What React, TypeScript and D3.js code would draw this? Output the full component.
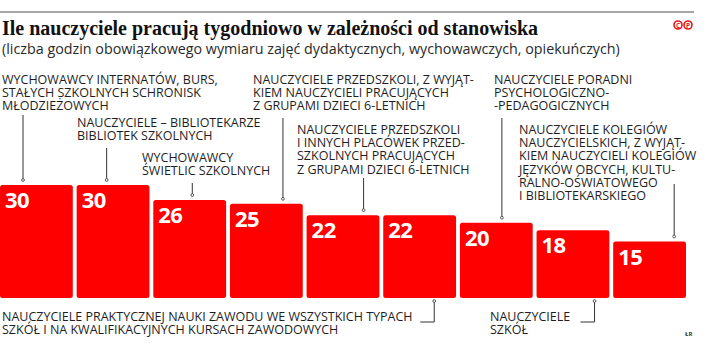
import * as d3 from "d3";

// dane: tygodniowy wymiar godzin wg stanowiska
const categories = [
  "internaty",
  "biblioteki",
  "swietlice",
  "przedszkola",
  "przedszkola6",
  "praktyczna",
  "poradnie",
  "szkoly",
  "kolegia",
];
const hours = [30, 30, 26, 25, 22, 22, 20, 18, 15];
const labels = [
  ["WYCHOWAWCY INTERNATÓW, BURS,", "STAŁYCH SZKOLNYCH SCHRONISK", "MŁODZIEŻOWYCH"],
  ["NAUCZYCIELE – BIBLIOTEKARZE", "BIBLIOTEK SZKOLNYCH"],
  ["WYCHOWAWCY", "ŚWIETLIC SZKOLNYCH"],
  ["NAUCZYCIELE PRZEDSZKOLI, Z WYJĄT-", "KIEM NAUCZYCIELI PRACUJĄCYCH", "Z GRUPAMI DZIECI 6-LETNICH"],
  ["NAUCZYCIELE PRZEDSZKOLI", "I INNYCH PLACÓWEK PRZED-", "SZKOLNYCH PRACUJĄCYCH", "Z GRUPAMI DZIECI 6-LETNICH"],
  ["NAUCZYCIELE PRAKTYCZNEJ NAUKI ZAWODU WE WSZYSTKICH TYPACH", "SZKÓŁ I NA KWALIFIKACYJNYCH KURSACH ZAWODOWYCH"],
  ["NAUCZYCIELE PORADNI", "PSYCHOLOGICZNO-", "-PEDAGOGICZNYCH"],
  ["NAUCZYCIELE", "SZKÓŁ"],
  ["NAUCZYCIELE KOLEGIÓW", "NAUCZYCIELSKICH, Z WYJĄT-", "KIEM NAUCZYCIELI KOLEGIÓW", "JĘZYKÓW OBCYCH, KULTU-", "RALNO-OŚWIATOWEGO", "I BIBLIOTEKARSKIEGO"],
];
const title = "Ile nauczyciele pracują tygodniowo w zależności od stanowiska";
const subtitle =
  "(liczba godzin obowiązkowego wymiaru zajęć dydaktycznych, wychowawczych, opiekuńczych)";

// rozmieszczenie podpisów (lx, ly = pierwsza linia, dx = linia odnośnika od lewej krawędzi słupka)
const layout = [
  { lx: 2, ly: 84, dx: 23, top: 115, below: false },
  { lx: 77, ly: 127, dx: 30, top: 148, below: false },
  { lx: 142, ly: 162, dx: 39, top: 183, below: false },
  { lx: 253, ly: 84, dx: 53, top: 118, below: false },
  { lx: 297, ly: 134, dx: 57, top: 178, below: false },
  { lx: 2, ly: 321, dx: 51, top: 0, below: true },
  { lx: 494, ly: 84, dx: 42, top: 118, below: false },
  { lx: 490, ly: 321, dx: 58, top: 0, below: true },
  { lx: 519, ly: 134, dx: 61, top: 184, below: false },
];

const W = 718;
const H = 352;
const base = 298;
const lineH = 13.2;
const labelFont = "'Open Sans', sans-serif";

export default function App() {
  const x = d3.scaleBand<string>().domain(categories).range([0, 686]).paddingInner(0.05);
  const y = d3.scaleLinear().domain([0, 30]).range([base, 185]);

  return (
    <div style={{ position: "absolute", left: 0, top: 0 }}>
      <svg width={W} height={H} style={{ display: "block", background: "#fff" }}>
        <line x1={0} x2={694} y1={12} y2={12} stroke="#8a8a8a" strokeWidth={1.5} />
        <text x={2} y={35} fontFamily="'Liberation Serif', serif" fontWeight={700} fontSize={20} fill="#111">
          {title}
        </text>
        <text x={2} y={54} fontFamily={labelFont} fontSize={14.3} fill="#2a2a2a">
          {subtitle}
        </text>
        {/* ©℗ */}
        <g fill="none" stroke="#e8141b" strokeWidth={1.6}>
          <circle cx={678} cy={25} r={4} />
          <circle cx={688} cy={25} r={4} />
        </g>
        <text x={678} y={27.5} textAnchor="middle" fontSize={6.5} fontWeight={700} fill="#e8141b" fontFamily={labelFont}>C</text>
        <text x={688} y={27.5} textAnchor="middle" fontSize={6.5} fontWeight={700} fill="#e8141b" fontFamily={labelFont}>P</text>

        {categories.map((c, i) => {
          const bx = x(c)!;
          const top = y(hours[i]);
          return (
            <g key={c}>
              <rect x={bx} y={top} width={x.bandwidth()} height={base - top} rx={2.5} fill="#ff0000" />
              <text
                x={bx + 5}
                y={top + 23}
                fill="#fff"
                fontFamily={labelFont}
                fontWeight={700}
                fontSize={22}
                letterSpacing={-0.5}
              >
                {hours[i]}
              </text>
            </g>
          );
        })}

        {labels.map((lines, i) => {
          const l = layout[i];
          const lx = x(categories[i])! + l.dx;
          const y1 = l.below ? base + 3 : l.top;
          const y2 = l.below ? l.ly + 1 : y(hours[i]) - 5;
          return (
            <g key={"l" + i}>
              <line x1={lx} x2={lx} y1={y1} y2={y2} stroke="#333" strokeWidth={1} />
              <circle cx={lx} cy={l.below ? y1 : y2} r={1.4} fill="#fff" stroke="#333" strokeWidth={0.8} />
              {l.below && (
                <line x1={lx - 14} x2={lx} y1={y2} y2={y2} stroke="#333" strokeWidth={1} />
              )}
              <text fontFamily={labelFont} fontSize={12.5} fill="#1e1e1e">
                {lines.map((t, j) => (
                  <tspan key={j} x={l.lx} y={l.ly + j * lineH}>
                    {t}
                  </tspan>
                ))}
              </text>
            </g>
          );
        })}

        <text x={685} y={336} fontFamily={labelFont} fontSize={6} fontWeight={700} fill="#333">ŁR</text>
      </svg>
    </div>
  );
}
